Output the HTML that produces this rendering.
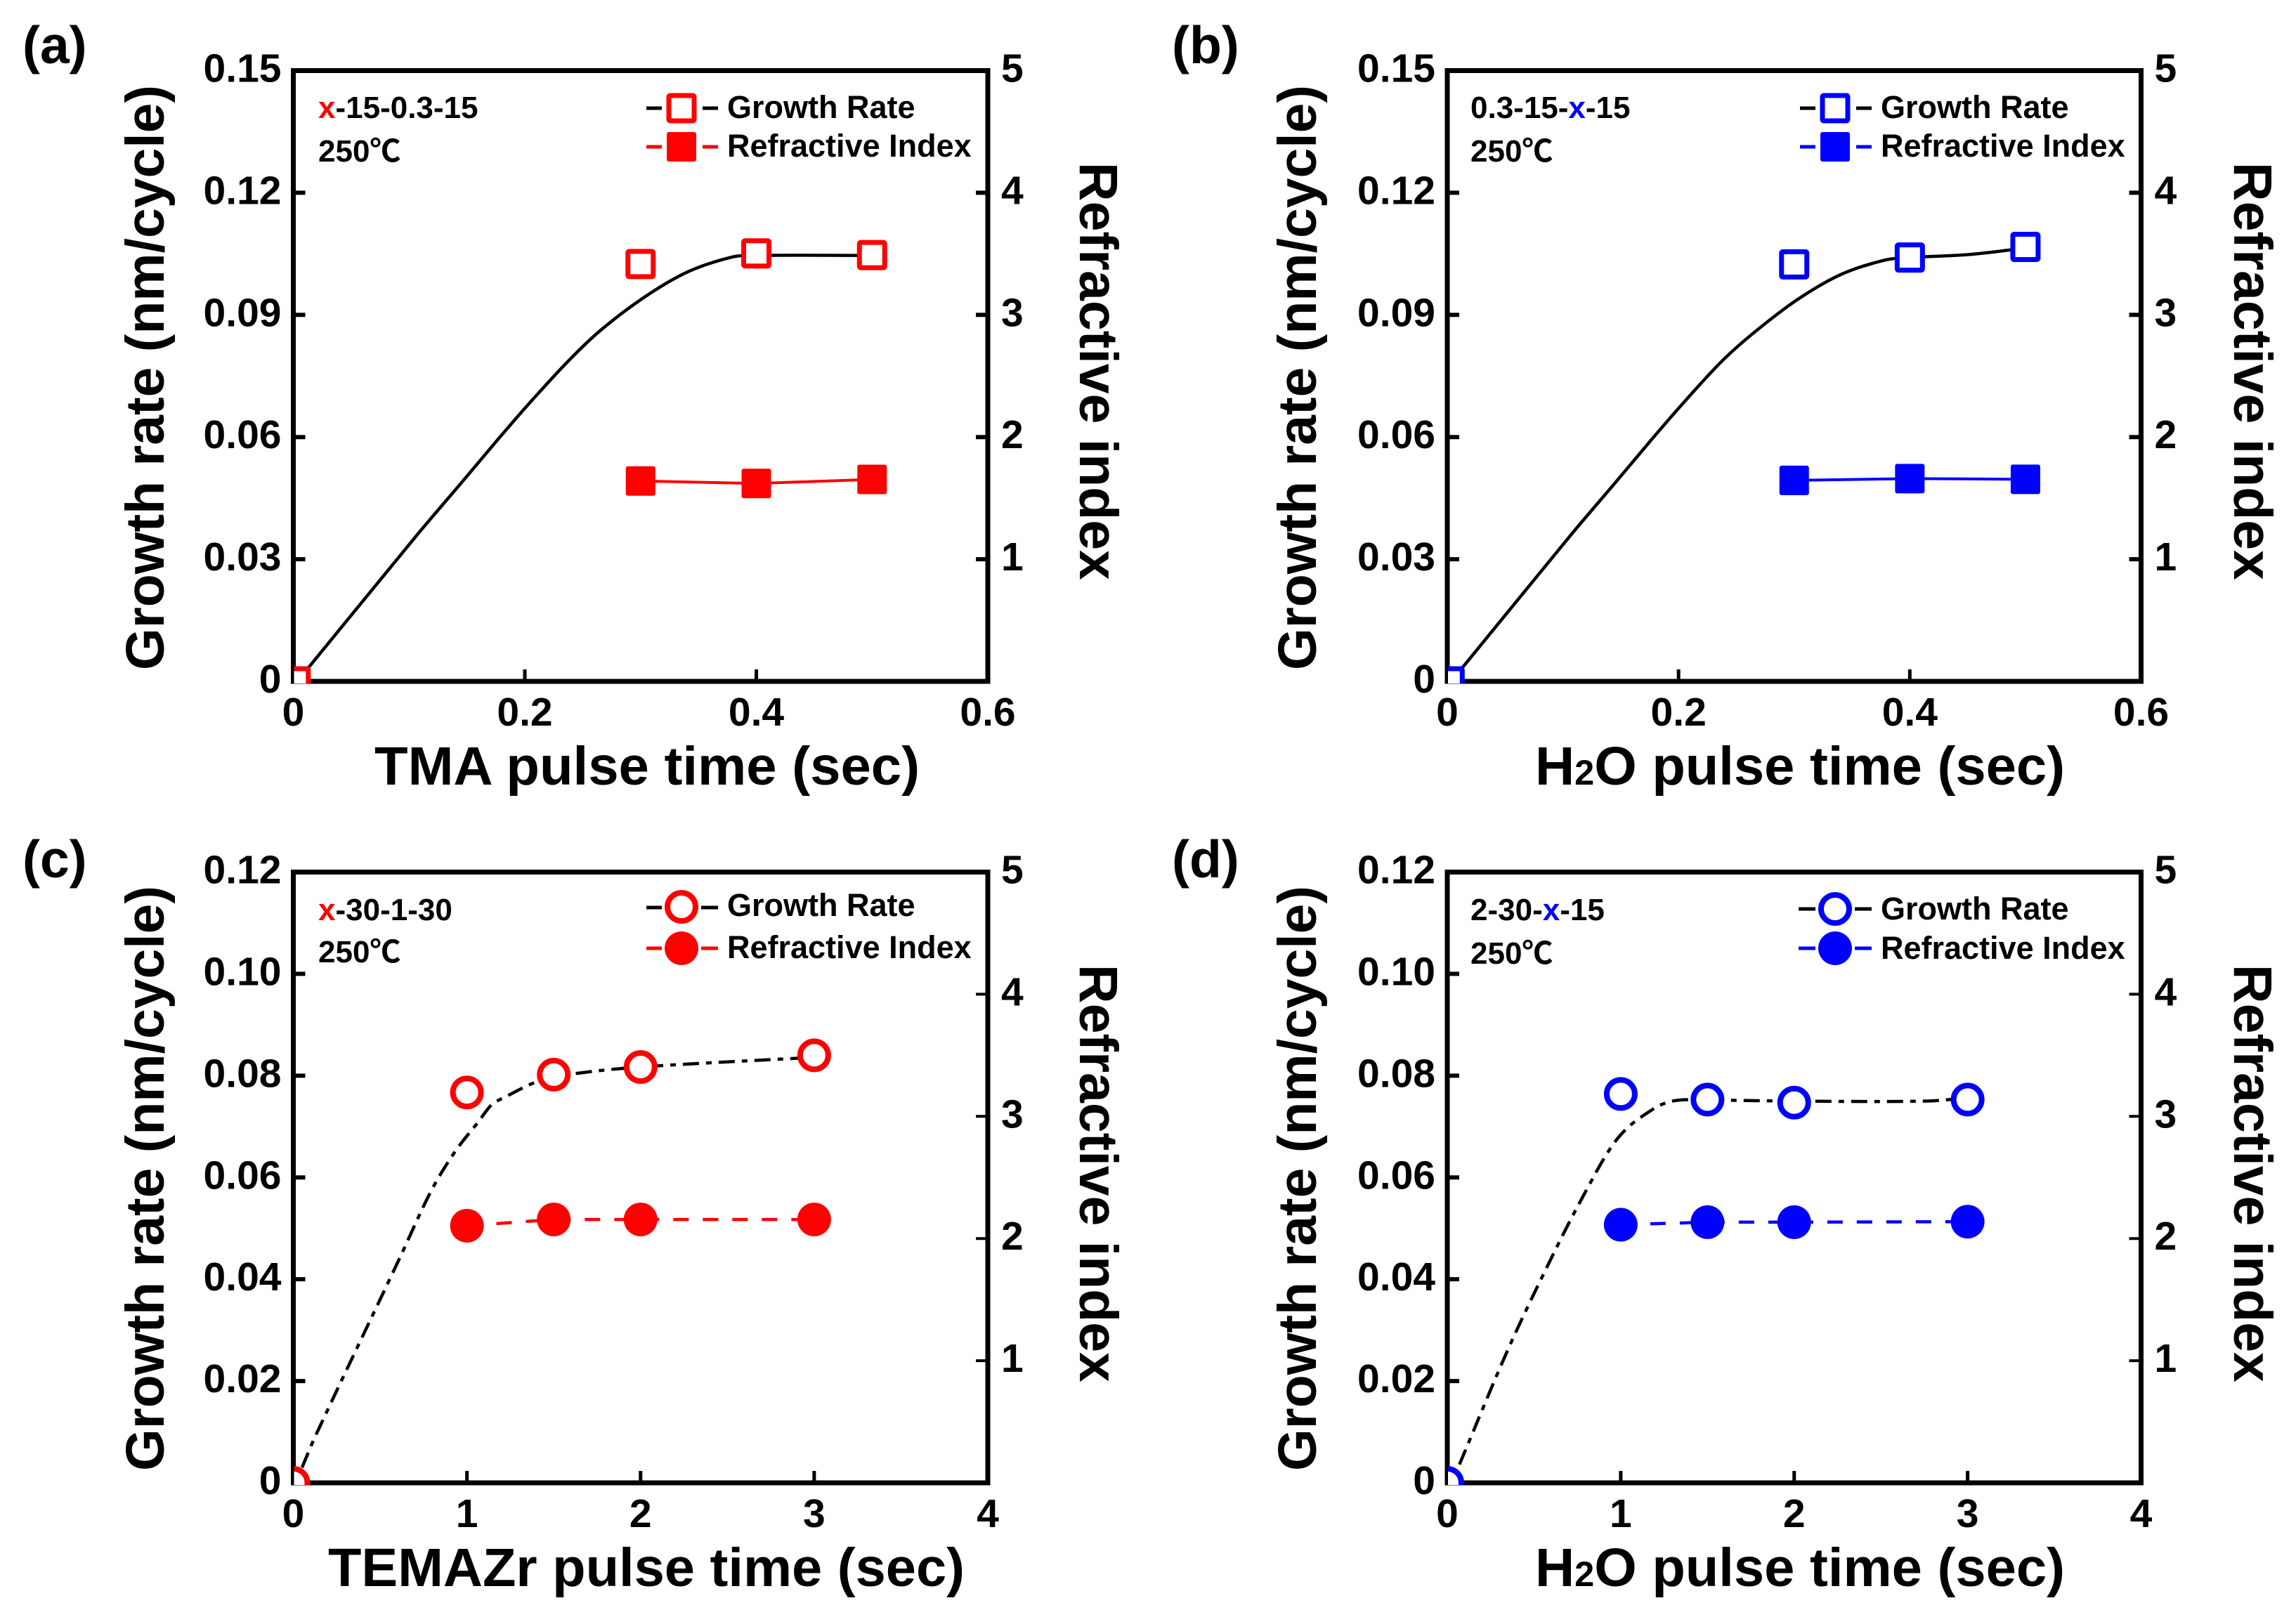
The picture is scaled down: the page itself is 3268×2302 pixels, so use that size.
<!DOCTYPE html>
<html lang="en">
<head>
<meta charset="utf-8">
<title>Growth rate and refractive index vs pulse time</title>
<style>
html,body{margin:0;padding:0;background:#fff;}
svg{display:block;}
text{font-family:"Liberation Sans","Noto Sans CJK JP",sans-serif;font-weight:bold;fill:#000;}
.title{font-size:77px;}
.panel{font-size:75px;}
.note{font-size:44px;}
.leg{font-size:45px;}
.tick{font-size:57px;}
</style>
</head>
<body>
<svg id="figure" xmlns="http://www.w3.org/2000/svg" width="3268" height="2302" viewBox="0 0 3268 2302">
<rect width="3268" height="2302" fill="#fff"/>

<g id="panel-a"></g>
<g id="panel-b"></g>
<g id="panel-c"></g>
<g id="panel-d"></g>

<!-- panel letters -->
<text class="panel" x="32" y="90">(a)</text>
<text class="panel" x="1668" y="90">(b)</text>
<text class="panel" x="32" y="1249">(c)</text>
<text class="panel" x="1668" y="1249">(d)</text>

<!-- y axis titles -->
<text class="title" transform="translate(233,954) rotate(-90)" textLength="833" lengthAdjust="spacingAndGlyphs">Growth rate (nm/cycle)</text>
<text class="title" transform="translate(1873,954) rotate(-90)" textLength="833" lengthAdjust="spacingAndGlyphs">Growth rate (nm/cycle)</text>
<text class="title" transform="translate(233,2094) rotate(-90)" textLength="833" lengthAdjust="spacingAndGlyphs">Growth rate (nm/cycle)</text>
<text class="title" transform="translate(1873,2094) rotate(-90)" textLength="833" lengthAdjust="spacingAndGlyphs">Growth rate (nm/cycle)</text>

<!-- right axis titles -->
<text class="title" transform="translate(1537,231) rotate(90)">Refractive index</text>
<text class="title" transform="translate(3180,231) rotate(90)">Refractive index</text>
<text class="title" transform="translate(1537,1373) rotate(90)">Refractive index</text>
<text class="title" transform="translate(3180,1373) rotate(90)">Refractive index</text>

<!-- x axis titles -->
<text class="title" x="533" y="1117" textLength="776" lengthAdjust="spacingAndGlyphs">TMA pulse time (sec)</text>
<text class="title" x="2185" y="1117" textLength="754" lengthAdjust="spacingAndGlyphs">H<tspan font-size="50">2</tspan>O pulse time (sec)</text>
<text class="title" x="467" y="2258" textLength="906" lengthAdjust="spacingAndGlyphs">TEMAZr pulse time (sec)</text>
<text class="title" x="2185" y="2258" textLength="754" lengthAdjust="spacingAndGlyphs">H<tspan font-size="50">2</tspan>O pulse time (sec)</text>

<!-- process notes -->
<text class="note" x="453" y="168"><tspan style="fill:#ff0000">x</tspan>-15-0.3-15</text>
<text class="note" x="453" y="230">250℃</text>
<text class="note" x="2093" y="168">0.3-15-<tspan style="fill:#0000ff">x</tspan>-15</text>
<text class="note" x="2093" y="230">250℃</text>
<text class="note" x="453" y="1310"><tspan style="fill:#ff0000">x</tspan>-30-1-30</text>
<text class="note" x="453" y="1370">250℃</text>
<text class="note" x="2093" y="1310">2-30-<tspan style="fill:#0000ff">x</tspan>-15</text>
<text class="note" x="2093" y="1372">250℃</text>

<!-- legend a -->
<g>
  <path d="M920 154H942M1000 154H1022" stroke="#000" stroke-width="5" fill="none"/>
  <rect x="952" y="136" width="36" height="36" rx="2" fill="#fff" stroke="#ff0000" stroke-width="7"/>
  <text class="leg" x="1035" y="168">Growth Rate</text>
  <path d="M920 209H942M1000 209H1022" stroke="#ff0000" stroke-width="5" fill="none"/>
  <rect x="949" y="188" width="42" height="42" rx="3" fill="#ff0000"/>
  <text class="leg" x="1035" y="223">Refractive Index</text>
</g>
<!-- legend b -->
<g>
  <path d="M2562 154H2584M2642 154H2664" stroke="#000" stroke-width="5" fill="none"/>
  <rect x="2594" y="136" width="36" height="36" rx="2" fill="#fff" stroke="#0000ff" stroke-width="7"/>
  <text class="leg" x="2677" y="168">Growth Rate</text>
  <path d="M2562 209H2584M2642 209H2664" stroke="#0000ff" stroke-width="5" fill="none"/>
  <rect x="2591" y="188" width="42" height="42" rx="3" fill="#0000ff"/>
  <text class="leg" x="2677" y="223">Refractive Index</text>
</g>
<!-- legend c -->
<g>
  <path d="M920 1292H942M998 1292H1022" stroke="#000" stroke-width="5" fill="none"/>
  <circle cx="970" cy="1291" r="20" fill="#fff" stroke="#ff0000" stroke-width="8"/>
  <text class="leg" x="1035" y="1304">Growth Rate</text>
  <path d="M920 1350H942M998 1350H1022" stroke="#ff0000" stroke-width="5" fill="none"/>
  <circle cx="970" cy="1350" r="24" fill="#ff0000"/>
  <text class="leg" x="1035" y="1364">Refractive Index</text>
</g>
<!-- legend d -->
<g>
  <path d="M2560 1294H2584M2640 1294H2664" stroke="#000" stroke-width="5" fill="none"/>
  <circle cx="2612" cy="1294" r="20" fill="#fff" stroke="#0000ff" stroke-width="8"/>
  <text class="leg" x="2677" y="1309">Growth Rate</text>
  <path d="M2560 1350H2584M2640 1350H2664" stroke="#0000ff" stroke-width="5" fill="none"/>
  <circle cx="2612" cy="1350" r="24" fill="#0000ff"/>
  <text class="leg" x="2677" y="1365">Refractive Index</text>
</g>
</svg>

<script>
// ---------- tick labels ----------
const xTicksTma = ["0", "0.2", "0.4", "0.6"];
const xTicksLong = ["0", "1", "2", "3", "4"];
const yTicksTop = ["0", "0.03", "0.06", "0.09", "0.12", "0.15"];
const yTicksBottom = ["0", "0.02", "0.04", "0.06", "0.08", "0.10", "0.12"];
const rightTicks = ["1", "2", "3", "4", "5"];

// ---------- panel (a) ----------
const aPulse = [0.002, 0.3, 0.4, 0.5];
const aGrowth = [0, 0.1025, 0.1051, 0.1047];
const aIndexPulse = [0.3, 0.4, 0.5];
const aIndex = [1.64, 1.62, 1.653];
const aFitPulse = [0.0126, 0.107, 0.145, 0.177, 0.202, 0.237, 0.265, 0.303, 0.341, 0.379, 0.398, 0.5];
const aFitGrowth = [0.0032, 0.036, 0.0487, 0.0595, 0.0677, 0.0785, 0.0861, 0.0943, 0.1006, 0.1042, 0.1046, 0.1046];

// ---------- panel (b) ----------
const bPulse = [0.002, 0.3, 0.4, 0.5];
const bGrowth = [0, 0.1024, 0.1041, 0.1067];
const bIndexPulse = [0.3, 0.4, 0.5];
const bIndex = [1.645, 1.66, 1.654];
const bFitPulse = [0.0126, 0.107, 0.145, 0.177, 0.202, 0.237, 0.265, 0.303, 0.341, 0.379, 0.4, 0.45, 0.5];
const bFitGrowth = [0.0032, 0.036, 0.0487, 0.0595, 0.0677, 0.0785, 0.0856, 0.0938, 0.1, 0.1035, 0.1041, 0.1048, 0.1064];

// ---------- panel (c) ----------
const cPulse = [0, 1, 1.5, 2, 3];
const cGrowth = [0, 0.0767, 0.0802, 0.0817, 0.084];
const cIndexPulse = [1, 1.5, 2, 3];
const cIndex = [2.105, 2.156, 2.156, 2.156];
const cFitPulse = [0.05, 0.13, 0.605, 0.79, 0.93, 1.063, 1.14, 1.22, 1.41, 1.6, 2, 3];
const cFitGrowth = [0.003, 0.0094, 0.0436, 0.0571, 0.065, 0.0708, 0.0742, 0.0758, 0.0789, 0.0803, 0.0817, 0.0836];

// ---------- panel (d) ----------
const dPulse = [0, 1, 1.5, 2, 3];
const dGrowth = [0, 0.0764, 0.0753, 0.0747, 0.0753];
const dIndexPulse = [1, 1.5, 2, 3];
const dIndex = [2.113, 2.134, 2.134, 2.138];
const dFitPulse = [0.07, 0.346, 0.556, 0.767, 0.978, 1.19, 1.315, 1.5, 2, 2.75, 3];
const dFitGrowth = [0.0036, 0.0259, 0.0411, 0.0553, 0.0675, 0.0735, 0.0751, 0.0752, 0.075, 0.075, 0.0756];

const NS = "http://www.w3.org/2000/svg";

function make(parent, tag, attrs) {
  const el = document.createElementNS(NS, tag);
  for (const k in attrs) el.setAttribute(k, attrs[k]);
  parent.appendChild(el);
  return el;
}

// Smooth path with tangents from non-uniform finite differences,
// so unevenly spaced readings do not produce kinks.
function smoothPath(pts) {
  const n = pts.length;
  const slope = i => {
    const a = pts[Math.max(0, i - 1)];
    const b = pts[Math.min(n - 1, i + 1)];
    return (b[1] - a[1]) / (b[0] - a[0]);
  };
  let d = "M" + pts[0][0] + " " + pts[0][1];
  for (let i = 0; i < n - 1; i++) {
    const p1 = pts[i];
    const p2 = pts[i + 1];
    const h = (p2[0] - p1[0]) / 3;
    const c1y = p1[1] + slope(i) * h;
    const c2y = p2[1] - slope(i + 1) * h;
    d += "C" + (p1[0] + h) + " " + c1y + " " + (p2[0] - h) + " " + c2y + " " + p2[0] + " " + p2[1];
  }
  return d;
}

function drawPanel(cfg) {
  const g = document.getElementById(cfg.id);
  const L = cfg.left, R = cfg.right, T = cfg.top, B = cfg.bottom;
  const xScale = v => L + (v / cfg.xMax) * (R - L);
  const yScale = v => B - (v / cfg.yMax) * (B - T);
  const rScale = v => B - (v / cfg.rMax) * (B - T);

  // clip for the marker sitting on the origin
  const defs = make(g, "defs", {});
  const clip = make(defs, "clipPath", { id: cfg.id + "-clip" });
  make(clip, "rect", { x: L + 1, y: T, width: R - L, height: B - T + 3 });

  // frame
  const frame = make(g, "path", {
    d: "M" + L + " " + (T - 3.5) + "V" + (B + 3.5) + "M" + (L - 3) + " " + B + "H" + (R + 3.5) +
       "M" + R + " " + (B + 3.5) + "V" + (T - 3.5) + "M" + (R + 3.5) + " " + T + "H" + (L - 3),
    stroke: "#000", "stroke-width": 7, fill: "none"
  });
  
  

  // x ticks
  cfg.xTicks.forEach(label => {
    const v = parseFloat(label);
    const px = xScale(v);
    if (v > 0 && v < cfg.xMax) {
      const tick = make(g, "line", { x1: px, x2: px, y1: B, y2: B - 17, stroke: "#000", "stroke-width": 5 });
      
      
    }
    const t = make(g, "text", { class: "tick", x: px, y: B + 63, "text-anchor": "middle" });
    t.textContent = label;
    
    
  });

  // left y ticks
  cfg.yTicks.forEach(label => {
    const v = parseFloat(label);
    const py = yScale(v);
    if (v > 0 && v < cfg.yMax) {
      const tick = make(g, "line", { x1: L, x2: L + 17, y1: py, y2: py, stroke: "#000", "stroke-width": 6 });
      
      
    }
    const t = make(g, "text", { class: "tick", x: L - 17, y: py + 16, "text-anchor": "end" });
    t.textContent = label;
    
    
  });

  // right y ticks
  cfg.rTicks.forEach(label => {
    const v = parseFloat(label);
    const py = rScale(v);
    if (v < cfg.rMax) {
      const tick = make(g, "line", { x1: R, x2: R - 17, y1: py, y2: py, stroke: "#000", "stroke-width": cfg.rightTickWidth });
      
      
    }
    const t = make(g, "text", { class: "tick", x: R + 19, y: py + 16 });
    t.textContent = label;
    
    
  });

  // growth-rate fit curve (black)
  const fitPts = cfg.fitX.map((x, i) => [xScale(x), yScale(cfg.fitY[i])]);
  const fit = make(g, "path", {
    d: smoothPath(fitPts), fill: "none", stroke: "#000", "stroke-width": cfg.fitWidth,
    "stroke-dasharray": cfg.fitDash, "stroke-linejoin": "round"
  });
  
  

  // refractive index line
  const idxPts = cfg.indexX.map((x, i) => xScale(x) + "," + rScale(cfg.index[i])).join(" ");
  const idxLine = make(g, "polyline", {
    points: idxPts, fill: "none", stroke: cfg.color, "stroke-width": cfg.indexWidth,
    "stroke-dasharray": cfg.indexDash
  });
  
  

  // markers
  const mg = make(g, "g", { "clip-path": "url(#" + cfg.id + "-clip)" });
  
  
  cfg.x.forEach((x, i) => {
    const px = xScale(x), py = yScale(cfg.y[i]);
    let m;
    if (cfg.shape === "square") {
      m = make(mg, "rect", { x: px - 18, y: py - 18, width: 36, height: 36, rx: 2, fill: "#fff", stroke: cfg.color, "stroke-width": 7 });
    } else {
      m = make(mg, "circle", { cx: px, cy: py, r: 20, fill: "#fff", stroke: cfg.color, "stroke-width": 8 });
    }
    
    
  });
  cfg.indexX.forEach((x, i) => {
    const px = xScale(x), py = rScale(cfg.index[i]);
    let m;
    if (cfg.shape === "square") {
      m = make(g, "rect", { x: px - 21, y: py - 21, width: 42, height: 42, rx: 3, fill: cfg.color });
    } else {
      m = make(g, "circle", { cx: px, cy: py, r: 24, fill: cfg.color });
    }
    
    
  });
}

const DASH_DOT = "23 10 8 10";
const DASHED = "22 20";

drawPanel({
  id: "panel-a", left: 417.5, right: 1406, top: 100.5, bottom: 970,
  xMax: 0.6, yMax: 0.15, rMax: 5, xTicks: xTicksTma, yTicks: yTicksTop, rTicks: rightTicks,
  x: aPulse, y: aGrowth, indexX: aIndexPulse, index: aIndex, fitX: aFitPulse, fitY: aFitGrowth,
  color: "#ff0000", shape: "square", fitWidth: 4.5, fitDash: "none", indexWidth: 4, indexDash: "none", rightTickWidth: 6
});
drawPanel({
  id: "panel-b", left: 2060, right: 3047.5, top: 100.5, bottom: 970,
  xMax: 0.6, yMax: 0.15, rMax: 5, xTicks: xTicksTma, yTicks: yTicksTop, rTicks: rightTicks,
  x: bPulse, y: bGrowth, indexX: bIndexPulse, index: bIndex, fitX: bFitPulse, fitY: bFitGrowth,
  color: "#0000ff", shape: "square", fitWidth: 4.5, fitDash: "none", indexWidth: 4, indexDash: "none", rightTickWidth: 6
});
drawPanel({
  id: "panel-c", left: 417.5, right: 1406, top: 1241.5, bottom: 2111,
  xMax: 4, yMax: 0.12, rMax: 5, xTicks: xTicksLong, yTicks: yTicksBottom, rTicks: rightTicks,
  x: cPulse, y: cGrowth, indexX: cIndexPulse, index: cIndex, fitX: cFitPulse, fitY: cFitGrowth,
  color: "#ff0000", shape: "circle", fitWidth: 4.5, fitDash: DASH_DOT, indexWidth: 4.5, indexDash: DASHED, rightTickWidth: 4
});
drawPanel({
  id: "panel-d", left: 2060, right: 3047.5, top: 1241.5, bottom: 2111,
  xMax: 4, yMax: 0.12, rMax: 5, xTicks: xTicksLong, yTicks: yTicksBottom, rTicks: rightTicks,
  x: dPulse, y: dGrowth, indexX: dIndexPulse, index: dIndex, fitX: dFitPulse, fitY: dFitGrowth,
  color: "#0000ff", shape: "circle", fitWidth: 4.5, fitDash: DASH_DOT, indexWidth: 4.5, indexDash: DASHED, rightTickWidth: 4
});
</script>
</body>
</html>
